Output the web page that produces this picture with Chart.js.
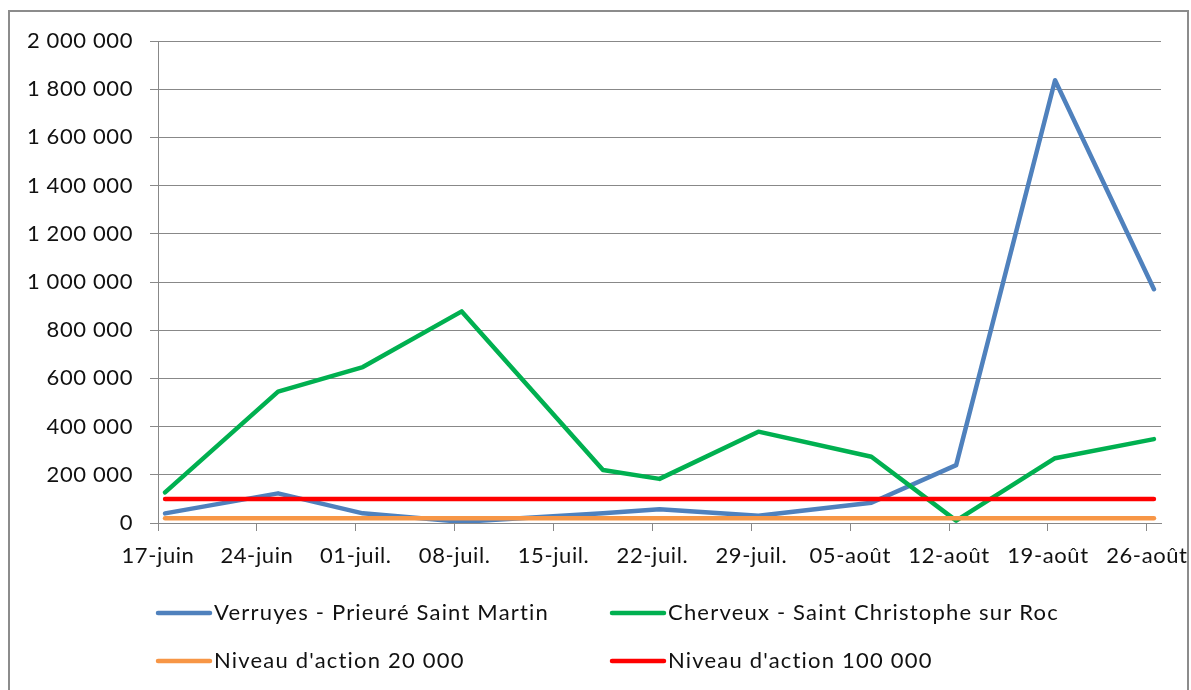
<!DOCTYPE html>
<html lang="fr">
<head>
<meta charset="utf-8">
<script src="https://cdn.jsdelivr.net/npm/chart.js@4"></script>
<style>
  html, body { margin: 0; padding: 0; background: #fff; }
  #wrap { width: 1191px; height: 690px; position: relative; }
</style>
</head>
<body>
<div id="wrap"><canvas id="myChart"></canvas></div>
<script>
// jours comptés depuis le 17-juin
const dayOffsets = [0, 8, 14, 21, 31, 35, 42, 50, 56, 63, 70];
const verruyes = [40000, 123000, 40000, 5000, 40000, 57000, 30000, 84000, 240000, 1837000, 970000];
const cherveux = [127000, 545000, 647000, 878000, 220000, 183000, 379000, 275000, 10000, 269000, 348000];
const niveau20 = [20000, 20000, 20000, 20000, 20000, 20000, 20000, 20000, 20000, 20000, 20000];
const niveau100 = [100000, 100000, 100000, 100000, 100000, 100000, 100000, 100000, 100000, 100000, 100000];
const xTickLabels = ['17-juin', '24-juin', '01-juil.', '08-juil.', '15-juil.', '22-juil.', '29-juil.', '05-août', '12-août', '19-août', '26-août'];
const seriesNames = ['Verruyes - Prieuré Saint Martin', 'Cherveux - Saint Christophe sur Roc', "Niveau d'action 20 000", "Niveau d'action 100 000"];

const FONT = 'Lato, "Open Sans", sans-serif';
const GRID = '#888888';

// axe de dates "entre les graduations" : chaque point au milieu du jour
const toPoints = (vals) => vals.map((v, i) => ({ x: dayOffsets[i] + 0.5, y: v }));

function fmtNombre(v) {
    return String(v).replace(/\B(?=(\d{3})+(?!\d))/g, ' ');
}

const lineStyle = {
    borderWidth: 4.5,
    pointRadius: 0,
    tension: 0,
    borderJoinStyle: 'round',
    borderCapStyle: 'round',
    fill: false
};

// légende en 2 colonnes + cadre
const legendeExcel = {
    id: 'legendeExcel',
    beforeDraw(chart) {
        chart.ctx.letterSpacing = '0.6px';
    },
    afterDraw(chart) {
        const ctx = chart.ctx;
        const cols = [158, 612];
        const rows = [613, 661];
        ctx.save();
        chart.data.datasets.forEach((ds, i) => {
            const x = cols[i % 2];
            const y = rows[Math.floor(i / 2)];
            ctx.strokeStyle = ds.borderColor;
            ctx.lineWidth = 4.5;
            ctx.lineCap = 'round';
            ctx.beginPath();
            ctx.moveTo(x, y);
            ctx.lineTo(x + 52, y);
            ctx.stroke();
            ctx.fillStyle = '#111';
            ctx.font = '22px ' + FONT;
            ctx.letterSpacing = '1.2px';
            ctx.textBaseline = 'middle';
            ctx.textAlign = 'left';
            ctx.fillText(ds.label, x + 56, y);
        });
        ctx.fillStyle = '#fff';
        ctx.fillRect(1189, 0, 2, 690);
        ctx.strokeStyle = '#8c8c8c';
        ctx.lineWidth = 2;
        ctx.strokeRect(9, 11, 1179, 700);
        ctx.restore();
    }
};

const config = {
    type: 'line',
    data: {
        datasets: [
            { label: seriesNames[0], data: toPoints(verruyes), borderColor: '#4F81BD', order: 3, ...lineStyle },
            { label: seriesNames[1], data: toPoints(cherveux), borderColor: '#00B050', order: 2, ...lineStyle },
            { label: seriesNames[2], data: toPoints(niveau20), borderColor: '#F79646', order: 1, ...lineStyle },
            { label: seriesNames[3], data: toPoints(niveau100), borderColor: '#FF0000', order: 0, ...lineStyle }
        ]
    },
    options: {
        responsive: true,
        maintainAspectRatio: false,
        animation: false,
        devicePixelRatio: 1,
        layout: { padding: { top: 41, right: 30, left: 0, bottom: 0 } },
        plugins: {
            legend: { display: false },
            tooltip: { enabled: false }
        },
        scales: {
            x: {
                type: 'linear',
                min: 0,
                max: 71,
                afterBuildTicks: (scale) => {
                    scale.ticks = xTickLabels.map((_, i) => ({ value: i * 7 }));
                },
                afterFit: (scale) => {
                    scale.height = 690 - 523;
                    scale.paddingLeft = 0;
                    scale.paddingRight = 0;
                },
                ticks: {
                    autoSkip: false,
                    maxRotation: 0,
                    padding: 12,
                    color: '#111',
                    font: { family: FONT, size: 22 },
                    callback: (v) => xTickLabels[Math.round(v / 7)]
                },
                grid: { drawOnChartArea: false, drawTicks: true, tickLength: 8, color: GRID, lineWidth: 1 },
                border: { color: GRID, width: 1 }
            },
            y: {
                min: 0,
                max: 2000000,
                afterFit: (scale) => { scale.width = 158; },
                ticks: {
                    stepSize: 200000,
                    padding: 17,
                    color: '#111',
                    font: { family: FONT, size: 22 },
                    callback: (v) => fmtNombre(v)
                },
                grid: { color: GRID, lineWidth: 1, drawTicks: true, tickLength: 8 },
                border: { color: GRID, width: 1 }
            }
        }
    },
    plugins: [legendeExcel]
};

new Chart(document.getElementById('myChart'), config);
</script>
</body>
</html>
